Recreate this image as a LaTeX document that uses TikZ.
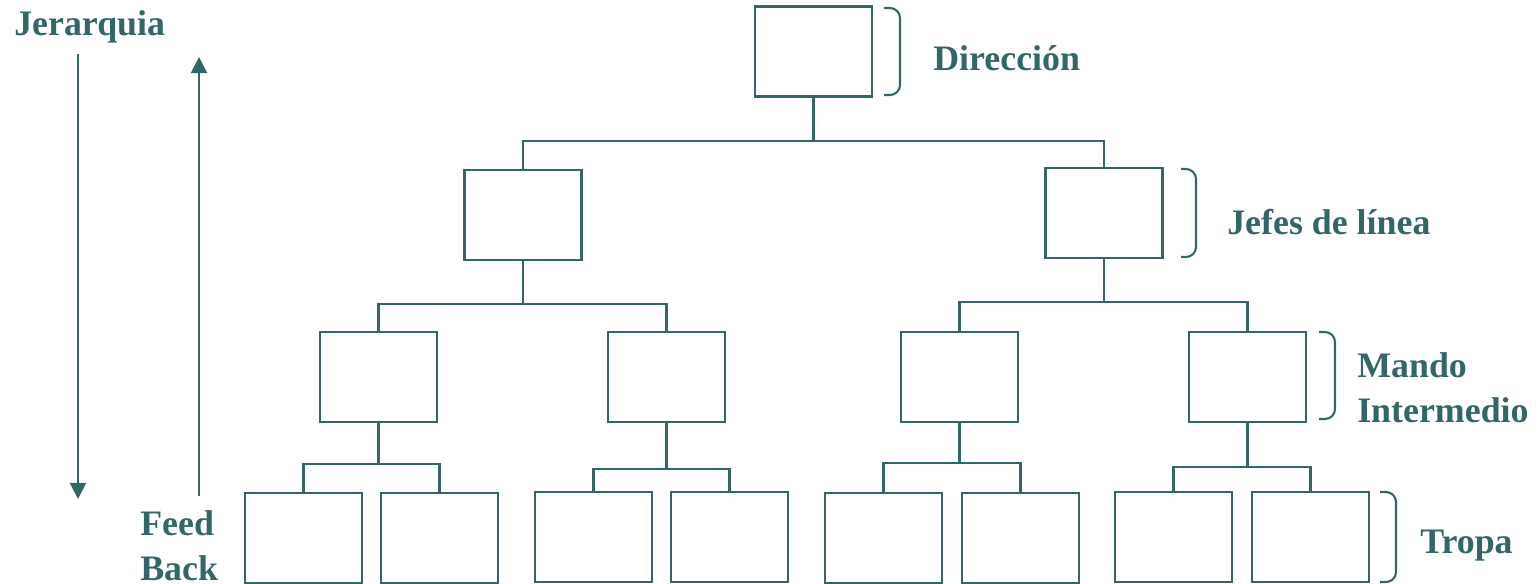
\documentclass[tikz,border=0pt]{standalone}
\usepackage{fontspec}
\setmainfont{Liberation Serif}
\usepackage{tikz}
\usetikzlibrary{arrows.meta,positioning,calc}
\definecolor{orgteal}{RGB}{51,102,102}
\tikzstyle{puesto} = [rectangle, draw=orgteal, line width=1.7pt, minimum width=2.925cm, minimum height=2.25cm, inner sep=0pt]
\tikzstyle{linea} = [draw=orgteal, line width=1.5pt]
\tikzstyle{llave} = [draw=orgteal, line width=1.5pt, rounded corners=0.25cm]
\tikzstyle{nivel} = [font=\fontsize{25.5}{32}\selectfont\bfseries, text=orgteal, anchor=west, align=left, inner sep=0pt]
\tikzstyle{flecha} = [draw=orgteal, line width=1.4pt, -{Triangle[width=0.4cm,length=0.4cm]}]

\begin{document}
\begin{tikzpicture}[x=0.025cm, y=-0.025cm]
    \useasboundingbox (0,0) rectangle (1539,584);

    % Direccion
    \node[puesto] (dir) at (813.5,51.5) {};

    % Jefes de linea
    \node[puesto] (j1) at (523,215) {};
    \node[puesto] (j2) at (1104,213) {};

    % Mando intermedio
    \node[puesto] (m1) at (378.5,377) {};
    \node[puesto] (m2) at (666.5,377) {};
    \node[puesto] (m3) at (959.5,377) {};
    \node[puesto] (m4) at (1247.5,377) {};

    % Tropa
    \node[puesto] (t1) at (303.5,538) {};
    \node[puesto] (t2) at (439.5,538) {};
    \node[puesto] (t3) at (593.5,537) {};
    \node[puesto] (t4) at (729.5,537) {};
    \node[puesto] (t5) at (883.5,538) {};
    \node[puesto] (t6) at (1020.5,538) {};
    \node[puesto] (t7) at (1173.5,537) {};
    \node[puesto] (t8) at (1310.5,537) {};

    % Conexiones
    \draw[linea] (dir.south) -- ++(0,43) coordinate (b0);
    \draw[linea] (j1.north) |- (b0) -| (j2.north);
    \draw[linea] (j1.south) -- ++(0,43) coordinate (b1);
    \draw[linea] (m1.north) |- (b1) -| (m2.north);
    \draw[linea] (j2.south) -- ++(0,43) coordinate (b2);
    \draw[linea] (m3.north) |- (b2) -| (m4.north);
    \draw[linea] (m1.south) -- ++(0,41) coordinate (b3);
    \draw[linea] (t1.north) |- (b3) -| (t2.north);
    \draw[linea] (m2.south) -- ++(0,46) coordinate (b4);
    \draw[linea] (t3.north) |- (b4) -| (t4.north);
    \draw[linea] (m3.south) -- ++(0,40) coordinate (b5);
    \draw[linea] (t5.north) |- (b5) -| (t6.north);
    \draw[linea] (m4.south) -- ++(0,44) coordinate (b6);
    \draw[linea] (t7.north) |- (b6) -| (t8.north);

    % Llaves
    \draw[llave] (884,8) -- (900,8) -- (900,95) -- (884,95);
    \draw[llave] (1181,169) -- (1196,169) -- (1196,257) -- (1181,257);
    \draw[llave] (1319,332) -- (1335,332) -- (1335,419) -- (1319,419);
    \draw[llave] (1380,492) -- (1396,492) -- (1396,582) -- (1380,582);

    % Niveles
    \node[nivel] (ldir) at (933,58) {Dirección};
    \node[nivel] (ljef) at (1227,222) {Jefes de línea};
    \node[nivel] (lman) at (1357,388) {Mando\\Intermedio};
    \node[nivel] (ltro) at (1420,546) {Tropa};

    % Jerarquia y feed back
    \node[nivel] (jer) at (14,27) {Jerarquia};
    \node[nivel] (fb) at (140,546) {Feed\\Back};
    \coordinate (jtop) at (78,54);
    \coordinate (jbot) at (78,499);
    \coordinate (ftop) at (199,57);
    \coordinate (fbot) at (199,496);
    \draw[flecha] (jtop) -- (jbot);
    \draw[flecha] (fbot) -- (ftop);
\end{tikzpicture}
\end{document}
